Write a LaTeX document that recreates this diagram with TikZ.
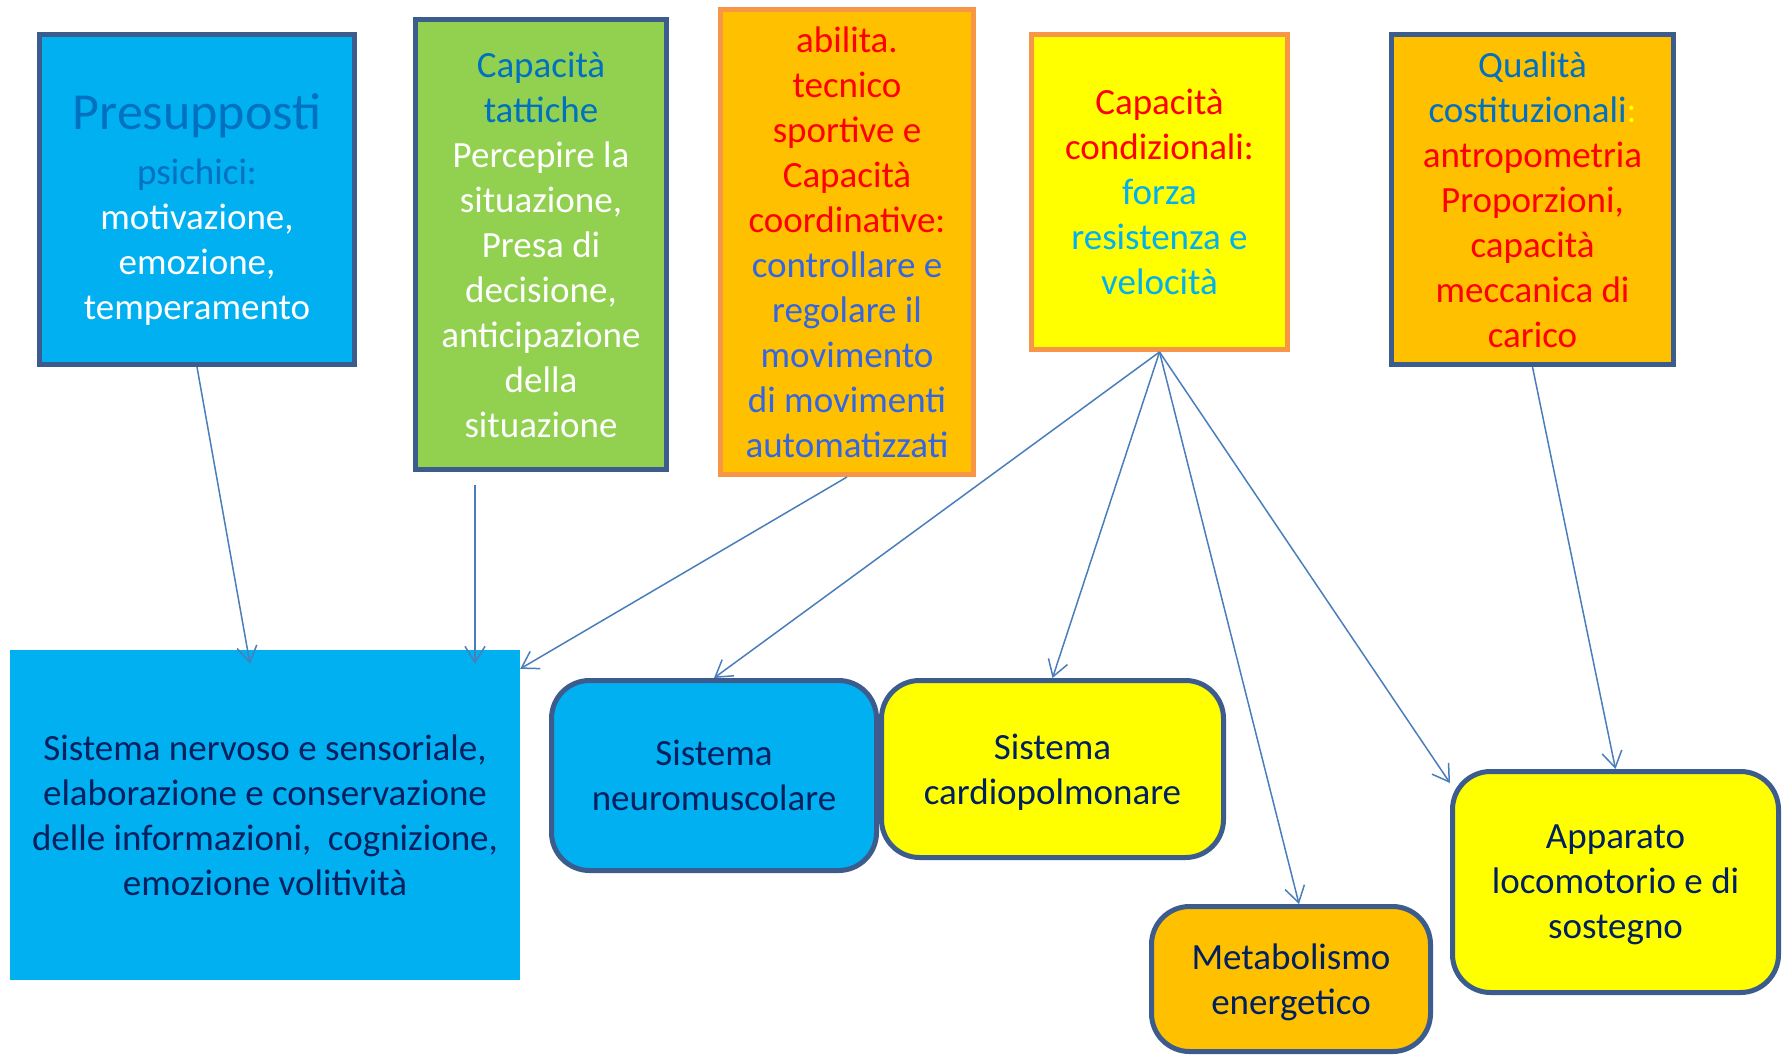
\documentclass[tikz,border=0pt]{standalone}
\usepackage{fontspec}
\setmainfont{Carlito}
\usepackage{xcolor}
\usetikzlibrary{arrows.meta}
\usetikzlibrary{positioning}

\definecolor{cyanfill}{HTML}{00B0F0}
\definecolor{greenfill}{HTML}{92D050}
\definecolor{orangefill}{HTML}{FFC000}
\definecolor{yellowfill}{HTML}{FFFF00}
\definecolor{boxblue}{HTML}{3B5C8C}
\definecolor{boxorange}{HTML}{F79646}
\definecolor{arrowblue}{HTML}{4A7EBB}
\definecolor{txtblue}{HTML}{0070C0}
\definecolor{txtmid}{HTML}{3366E0}
\definecolor{txtred}{HTML}{FF0000}
\definecolor{txtnavy}{HTML}{002060}

\begin{document}
\begin{tikzpicture}[x=1pt,y=-1pt,
    topbox/.style={draw=boxblue, line width=5pt, align=center, inner sep=0pt,
      font=\fontsize{37}{45}\selectfont},
    orangebox/.style={topbox, draw=boxorange},
    sysbox/.style={draw=boxblue, line width=5pt, rounded corners=38pt, align=center,
      inner sep=0pt, text depth=0pt, text=txtnavy, font=\fontsize{37}{45}\selectfont},
    arr/.style={draw=arrowblue, line width=1.5pt, -{Straight Barb[length=16pt,width=20pt]}}]
    \useasboundingbox (0,0) rectangle (1784,1054);

    % top row
    \node[topbox, fill=cyanfill, text=white, minimum width=315pt, minimum height=330pt] (presup) at (197,199.5)
      {\rule{0pt}{56pt}\textcolor{txtblue}{\fontsize{52}{58}\selectfont Presupposti}\\[10pt] \textcolor{txtblue}{psichici:}\\ motivazione,\\ emozione,\\ temperamento};
    \node[topbox, fill=greenfill, text=white, minimum width=251pt, minimum height=450pt] (tattiche) at (541,244.5)
      {\textcolor{txtblue}{Capacità}\\ \textcolor{txtblue}{tattiche}\\ Percepire la\\ situazione,\\ Presa di\\ decisione,\\ anticipazione\\ della\\ situazione};
    \node[orangebox, fill=orangefill, text=txtred, minimum width=253pt, minimum height=465pt] (abilita) at (847,242)
      {abilita.\\ tecnico\\ sportive e\\ Capacità\\ coordinative:\\ \textcolor{txtmid}{controllare e}\\ \textcolor{txtmid}{regolare il}\\ \textcolor{txtmid}{movimento}\\ \textcolor{txtmid}{di movimenti}\\ \textcolor{txtmid}{automatizzati}};
    \node[orangebox, fill=yellowfill, text=txtred, minimum width=256pt, minimum height=315pt] (condiz) at (1159.5,192)
      {Capacità\\ condizionali:\\ \textcolor{cyanfill}{forza}\\ \textcolor{cyanfill}{resistenza e}\\ \textcolor{cyanfill}{velocità}};
    \node[topbox, fill=orangefill, text=txtred, minimum width=282pt, minimum height=330pt] (qualita) at (1532.5,199.5)
      {\textcolor{txtblue}{Qualità}\\ \textcolor{txtblue}{costituzionali}\textcolor{yellowfill}{:}\\ antropometria\\ Proporzioni,\\ capacità\\ meccanica di\\ carico};

    % bottom row
    \node[fill=cyanfill, text=txtnavy, align=center, inner sep=0pt, font=\fontsize{37}{45}\selectfont,
      minimum width=510pt, minimum height=330pt] (nervoso) at (265,815)
      {Sistema nervoso e sensoriale,\\ elaborazione e conservazione\\ delle informazioni,\ \ cognizione,\\ emozione volitività};
    \node[sysbox, fill=cyanfill, minimum width=325pt, minimum height=190pt] (neuro) at (714,775.5)
      {Sistema\\ neuromuscolare};
    \node[sysbox, fill=yellowfill, minimum width=342pt, minimum height=177pt] (cardio) at (1052.5,769)
      {Sistema\\ cardiopolmonare};
    \node[sysbox, fill=orangefill, minimum width=279pt, minimum height=145pt] (metab) at (1291,979)
      {Metabolismo\\ energetico};
    \node[sysbox, fill=yellowfill, minimum width=326pt, minimum height=221pt] (appar) at (1615.5,882)
      {Apparato\\ locomotorio e di\\ sostegno};

    % connectors
    \draw[arr] (presup.south) -- ([xshift=-15pt,yshift=-14pt]nervoso.north);
    \draw[arr] ([xshift=-66pt,yshift=-13pt]tattiche.south) -- ([xshift=210pt,yshift=-14pt]nervoso.north);
    \draw[arr] (abilita.south) -- ([yshift=-19pt]nervoso.north east);
    \draw[arr] (condiz.south) -- (neuro.north);
    \draw[arr] (condiz.south) -- (cardio.north);
    \draw[arr] (condiz.south) -- ([xshift=8pt]metab.north);
    \draw[arr] (condiz.south) -- ([yshift=-14pt]appar.north west);
    \draw[arr] (qualita.south) -- (appar.north);
  \end{tikzpicture}
\end{document}
